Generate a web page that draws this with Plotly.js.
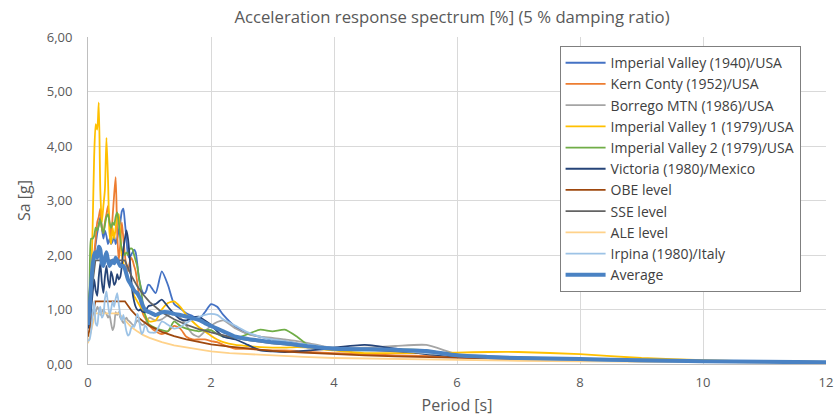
<!DOCTYPE html>
<html>
<head>
<meta charset="utf-8">
<script src="https://cdn.plot.ly/plotly-3.0.1.min.js"></script>
<style>html,body{margin:0;padding:0;background:#fff}#chart{width:834px;height:417px}</style>
</head>
<body>
<div id="chart"></div>
<script>
// Periods [s] for the recorded spectra
const periods = [0, .025, .05, .075, .1, .125, .15, .175, .2, .225, .25, .275, .3, .325, .35, .375, .4, .425, .45, .475,
  .5, .525, .55, .575, .6, .625, .65, .675, .7, .725, .75, .775, .8, .825, .85, .875, .9, .925, .95, .975,
  1.0, 1.1, 1.2, 1.3, 1.4, 1.5, 1.6, 1.7, 1.8, 1.9, 2.0, 2.1, 2.2,
  2.4, 2.6, 2.8, 3.0, 3.2, 3.4, 3.6, 3.8, 4.0, 4.5, 5.0, 5.5, 6.0, 6.5, 7.0, 8, 9, 10, 11, 12];

// Periods [s] for the design spectra
const designPeriods = [0, 0.12, 0.5, 0.6, 0.7, 0.8, 0.9, 1.0, 1.2, 1.4, 1.6, 1.8, 2.0, 2.3, 2.6, 3.0, 3.5, 4.0, 4.5, 5.0, 6.0, 7.0, 8.0, 9.0, 10.0, 11.0, 12.0];

const imperialValley1940 = [0.75, 0.9, 1.2, 1.6, 2.0, 2.2, 2.4, 2.55, 2.7, 2.5, 2.3, 2.45, 2.35, 2.2, 2.3, 2.2, 2.25, 2.35, 2.2, 2.3,
  2.45, 2.6, 2.8, 2.85, 2.6, 2.3, 2.0, 1.95, 2.0, 2.05, 2.1, 2.05, 1.85, 1.6, 1.45, 1.35, 1.3, 1.3, 1.35, 1.45,
  1.45, 1.3, 1.7, 1.45, 1.1, 1.02, 0.93, 0.88, 0.82, 0.95, 1.1, 1.05, 0.9,
  0.68, 0.55, 0.5, 0.45, 0.42, 0.38, 0.35, 0.32, 0.3, 0.27, 0.25, 0.22, 0.15, 0.13, 0.11, 0.08, 0.06, 0.05, 0.04, 0.03];

const kernCounty1952 = [0.9, 1.0, 1.3, 1.6, 2.0, 2.3, 2.6, 2.7, 2.85, 2.5, 2.4, 2.6, 2.75, 2.9, 2.6, 2.3, 2.7, 3.1, 3.43, 2.4,
  1.9, 2.2, 2.6, 2.3, 2.0, 1.8, 1.7, 1.85, 1.95, 1.9, 1.8, 1.7, 1.5, 1.3, 1.15, 1.0, 0.9, 0.85, 0.8, 0.75,
  0.7, 0.6, 0.55, 0.6, 0.7, 0.65, 0.5, 0.45, 0.45, 0.45, 0.42, 0.4, 0.35,
  0.28, 0.28, 0.26, 0.25, 0.25, 0.24, 0.22, 0.21, 0.2, 0.18, 0.16, 0.15, 0.13, 0.11, 0.1, 0.08, 0.06, 0.05, 0.04, 0.03];

const borregoMtn1986 = [0.5, 0.6, 0.8, 0.95, 1.0, 0.95, 1.05, 1.0, 0.9, 0.95, 1.0, 0.95, 0.92, 0.85, 0.9, 0.75, 0.62, 0.7, 0.95, 0.9,
  0.95, 0.85, 0.8, 0.75, 0.8, 0.85, 0.8, 0.78, 0.75, 0.72, 0.7, 0.75, 0.8, 0.78, 0.75, 0.72, 0.72, 0.75, 0.78, 0.82,
  0.85, 0.8, 0.82, 0.9, 0.92, 0.85, 0.7, 0.55, 0.5, 0.6, 0.7, 0.77, 0.8,
  0.65, 0.55, 0.5, 0.48, 0.45, 0.42, 0.38, 0.33, 0.3, 0.3, 0.33, 0.35, 0.18, 0.12, 0.1, 0.07, 0.05, 0.04, 0.03, 0.03];

const imperialValley1_1979 = [1.15, 1.3, 1.6, 2.5, 3.8, 4.4, 4.3, 4.8, 3.2, 2.6, 2.9, 3.2, 4.15, 3.4, 2.4, 2.2, 2.5, 2.3, 2.5, 2.7,
  2.75, 2.4, 2.0, 1.85, 1.75, 1.6, 1.55, 1.5, 1.45, 1.35, 1.25, 1.2, 1.15, 1.1, 1.05, 1.0, 0.95, 0.9, 0.85, 0.8,
  0.78, 0.8, 1.0, 1.12, 1.15, 1.05, 0.9, 0.78, 0.68, 0.6, 0.52, 0.45, 0.4,
  0.35, 0.33, 0.31, 0.3, 0.3, 0.31, 0.3, 0.27, 0.25, 0.2, 0.2, 0.2, 0.21, 0.22, 0.22, 0.18, 0.11, 0.07, 0.05, 0.04];

const imperialValley2_1979 = [0.95, 1.4, 2.3, 2.3, 2.35, 2.5, 2.45, 2.55, 2.65, 2.5, 2.4, 2.55, 2.7, 2.75, 2.6, 2.5, 2.6, 2.55, 2.7, 2.78,
  2.6, 2.3, 2.1, 2.05, 2.0, 2.05, 2.0, 2.1, 2.12, 2.1, 2.0, 1.9, 1.8, 1.6, 1.45, 1.25, 1.05, 0.92, 0.82, 0.75,
  0.72, 0.66, 0.62, 0.6, 0.78, 0.7, 0.65, 0.62, 0.6, 0.62, 0.62, 0.55, 0.5,
  0.47, 0.55, 0.63, 0.6, 0.63, 0.5, 0.33, 0.3, 0.28, 0.25, 0.27, 0.25, 0.16, 0.13, 0.11, 0.08, 0.06, 0.05, 0.04, 0.03];

const victoria1980 = [0.65, 0.75, 1.0, 1.3, 1.55, 1.35, 1.25, 1.6, 1.85, 1.5, 1.3, 1.6, 1.8, 1.55, 1.4, 1.7, 1.6, 1.45, 1.5, 1.65,
  1.55, 1.6, 1.8, 2.1, 2.3, 2.45, 2.3, 2.0, 1.6, 1.3, 1.15, 1.05, 1.0, 0.98, 1.0, 0.97, 0.95, 0.95, 1.0, 1.05,
  1.07, 1.1, 1.18, 1.05, 0.92, 0.82, 0.8, 0.85, 0.87, 0.8, 0.72, 0.6, 0.5,
  0.45, 0.35, 0.25, 0.23, 0.22, 0.23, 0.25, 0.27, 0.3, 0.35, 0.28, 0.18, 0.14, 0.12, 0.1, 0.07, 0.05, 0.04, 0.035, 0.03];

const irpina1980 = [0.42, 0.45, 0.6, 0.9, 1.15, 0.75, 0.7, 0.95, 1.05, 0.85, 0.9, 1.2, 1.33, 1.1, 0.9, 1.0, 1.15, 1.05, 1.2, 1.3,
  1.1, 0.9, 0.8, 0.9, 0.75, 0.6, 0.52, 0.55, 0.65, 0.7, 0.68, 0.8, 0.92, 0.85, 0.65, 0.55, 0.6, 0.7, 0.68, 0.6,
  0.58, 0.58, 0.78, 0.72, 0.65, 0.68, 0.75, 0.82, 0.86, 0.9, 0.92, 0.9, 0.82,
  0.7, 0.58, 0.5, 0.45, 0.42, 0.38, 0.35, 0.32, 0.3, 0.28, 0.25, 0.2, 0.15, 0.12, 0.1, 0.07, 0.05, 0.04, 0.035, 0.03];

const average = [0.72, 1.0, 1.45, 1.8, 2.0, 2.05, 1.95, 2.15, 2.1, 1.85, 1.8, 1.95, 2.05, 1.9, 1.8, 1.85, 1.9, 1.85, 1.95, 1.9,
  1.85, 1.8, 1.8, 1.8, 1.75, 1.65, 1.55, 1.5, 1.45, 1.4, 1.35, 1.32, 1.3, 1.25, 1.2, 1.12, 1.05, 1.0, 0.98, 0.96,
  0.95, 0.9, 0.95, 0.95, 0.92, 0.9, 0.87, 0.84, 0.81, 0.75, 0.7, 0.65, 0.6,
  0.5, 0.46, 0.43, 0.4, 0.38, 0.35, 0.32, 0.3, 0.28, 0.27, 0.26, 0.24, 0.16, 0.13, 0.11, 0.09, 0.07, 0.05, 0.04, 0.03];

const obeLevel = [0.5, 1.15, 1.15, 1.15, 0.99, 0.87, 0.78, 0.70, 0.59, 0.51, 0.45, 0.40, 0.36, 0.32, 0.28, 0.24, 0.21, 0.18, 0.16, 0.14, 0.11, 0.09, 0.07, 0.06, 0.05, 0.04, 0.035];
const sseLevel = [0.8, 1.9, 1.9, 1.9, 1.63, 1.43, 1.27, 1.14, 0.95, 0.82, 0.72, 0.64, 0.58, 0.50, 0.44, 0.38, 0.33, 0.29, 0.26, 0.23, 0.16, 0.12, 0.09, 0.07, 0.055, 0.045, 0.04];
const aleLevel = [0.38, 0.93, 0.93, 0.8, 0.68, 0.6, 0.53, 0.48, 0.4, 0.34, 0.3, 0.26, 0.23, 0.2, 0.18, 0.15, 0.13, 0.11, 0.1, 0.09, 0.07, 0.06, 0.05, 0.04, 0.035, 0.03, 0.03];

const seriesNames = ['Imperial Valley (1940)/USA', 'Kern Conty (1952)/USA', 'Borrego MTN (1986)/USA',
  'Imperial Valley 1 (1979)/USA', 'Imperial Valley 2 (1979)/USA', 'Victoria (1980)/Mexico',
  'OBE level', 'SSE level', 'ALE level', 'Irpina (1980)/Italy', 'Average'];

const xTickVals = [0, 2, 4, 6, 8, 10, 12];
const yTickVals = [0, 1, 2, 3, 4, 5, 6];

const seriesDefs = [
  {y: imperialValley1940, x: periods, color: '#4472C4', w: 1.8, shape: 'spline'},
  {y: kernCounty1952, x: periods, color: '#ED7D31', w: 1.8, shape: 'spline'},
  {y: borregoMtn1986, x: periods, color: '#A5A5A5', w: 1.8, shape: 'spline'},
  {y: imperialValley1_1979, x: periods, color: '#FFC000', w: 1.8, shape: 'spline'},
  {y: imperialValley2_1979, x: periods, color: '#70AD47', w: 1.8, shape: 'spline'},
  {y: victoria1980, x: periods, color: '#264478', w: 1.8, shape: 'spline'},
  {y: obeLevel, x: designPeriods, color: '#9E480E', w: 1.8, shape: 'linear'},
  {y: sseLevel, x: designPeriods, color: '#636363', w: 1.8, shape: 'linear'},
  {y: aleLevel, x: designPeriods, color: '#FFD28A', w: 1.8, shape: 'linear'},
  {y: irpina1980, x: periods, color: '#9DC3E6', w: 1.8, shape: 'spline'},
  {y: average, x: periods, color: '#4A82C3', w: 4, shape: 'spline'}
];

const traces = seriesDefs.map((d, i) => ({
  type: 'scatter', mode: 'lines', name: seriesNames[i], x: d.x, y: d.y,
  line: {color: d.color, width: d.w, shape: d.shape, smoothing: 0.6},
  hoverinfo: 'skip'
}));

const font = "'Open Sans', 'Noto Sans', sans-serif";
const layout = {
  width: 834, height: 417,
  margin: {l: 88, r: 8, t: 37, b: 53, pad: 0},
  paper_bgcolor: '#ffffff', plot_bgcolor: '#ffffff',
  separators: ', ',
  font: {family: font, color: '#595959', size: 13},
  title: {text: 'Acceleration response spectrum [%] (5 % damping ratio)', font: {size: 16.7, color: '#595959', family: font}, x: 0.542, xanchor: 'center', y: 0.96, yanchor: 'middle'},
  xaxis: {
    range: [0, 12], tickvals: xTickVals, ticktext: xTickVals.map(String),
    showgrid: true, gridcolor: '#d9d9d9', gridwidth: 1, zeroline: false,
    showline: true, linecolor: '#bfbfbf', linewidth: 1, ticks: '', ticklabelstandoff: 6,
    tickfont: {size: 13, color: '#595959'},
    title: {text: 'Period [s]', font: {size: 16, color: '#595959'}, standoff: 10}
  },
  yaxis: {
    range: [0, 6], tickvals: yTickVals, tickformat: '.2f',
    showgrid: true, gridcolor: '#d9d9d9', gridwidth: 1, zeroline: false,
    showline: true, linecolor: '#bfbfbf', linewidth: 1, ticks: '', ticklabelstandoff: 12,
    tickfont: {size: 13, color: '#595959'},
    title: {text: 'Sa [g]', font: {size: 16, color: '#595959'}, standoff: 12}
  },
  showlegend: true,
  legend: {
    x: 0.639, y: 0.972, xanchor: 'left', yanchor: 'top',
    bgcolor: '#ffffff', bordercolor: '#7f7f7f', borderwidth: 1,
    font: {size: 14, color: '#404040', family: font},
    itemwidth: 40,
    tracegroupgap: 0
  }
};

Plotly.newPlot('chart', traces, layout, {displayModeBar: false, staticPlot: true});
</script>
</body>
</html>
